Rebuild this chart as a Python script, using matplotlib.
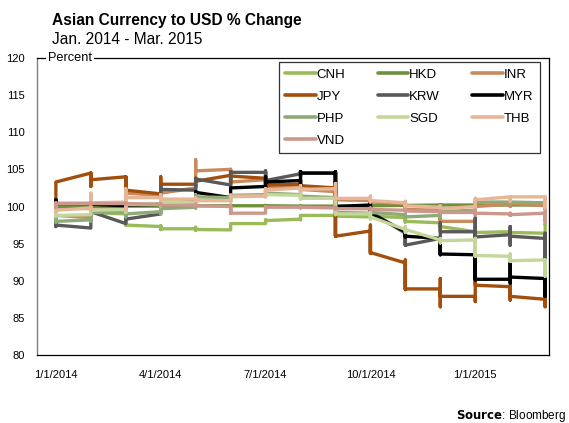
import matplotlib
matplotlib.use("Agg")
import matplotlib.pyplot as plt

plt.rcParams['font.family'] = ['Liberation Sans', 'DejaVu Sans']

# Month positions: Jan 2014 .. Mar 2015 (15 months)
months = list(range(15))
tick_pos = [0, 3, 6, 9, 12]
tick_labels = ["1/1/2014", "4/1/2014", "7/1/2014", "10/1/2014", "1/1/2015"]
y_ticks = [80, 85, 90, 95, 100, 105, 110, 115, 120]

# Per month: (first, low, high, last) of index (Jan 1 2014 = 100)
CNH = [(100, 99.7, 100.1, 99.8), (99.7, 98.8, 99.8, 99.2), (99.0, 97.5, 99.0, 97.5),
       (97.3, 96.9, 97.4, 97.0), (97.0, 96.8, 97.2, 96.9), (96.85, 96.85, 97.7, 97.7),
       (97.7, 97.7, 98.2, 98.1), (98.3, 98.2, 98.8, 98.8), (98.8, 98.6, 98.9, 98.7),
       (98.6, 98.5, 98.9, 98.7), (98.5, 97.9, 98.6, 98.0), (97.8, 97.2, 97.9, 97.3),
       (96.6, 96.4, 97.3, 96.5), (96.6, 96.3, 96.7, 96.5), (96.4, 96.3, 97.7, 97.6)]
HKD = [(100, 99.95, 100.05, 100.0), (100.0, 99.95, 100.05, 100.0), (100.0, 99.95, 100.05, 100.05),
       (100.05, 100.0, 100.1, 100.05), (100.1, 100.05, 100.15, 100.1), (100.1, 100.05, 100.15, 100.1),
       (100.1, 100.05, 100.15, 100.1), (100.05, 100.0, 100.1, 100.05), (100.05, 100.0, 100.1, 100.05),
       (100.1, 100.05, 100.15, 100.1), (100.15, 100.1, 100.2, 100.15), (100.2, 100.15, 100.25, 100.2),
       (100.2, 100.15, 100.25, 100.2), (100.2, 100.15, 100.25, 100.2), (100.2, 100.15, 100.25, 100.2)]
INR = [(100, 98.7, 100.3, 98.8), (98.5, 98.5, 99.6, 99.5), (99.6, 99.6, 102.4, 101.8),
       (101.5, 101.0, 102.5, 101.8), (102.5, 102.5, 106.3, 104.8), (105.0, 103.2, 105.0, 103.3),
       (103.6, 102.6, 103.8, 102.7), (102.5, 102.0, 103.0, 102.3), (102.0, 100.8, 102.3, 100.9),
       (100.8, 100.4, 101.0, 100.6), (100.4, 99.5, 100.5, 99.6), (99.5, 97.9, 99.6, 98.0),
       (98.0, 97.8, 100.1, 100.0), (100.3, 100.0, 100.6, 100.4), (100.1, 99.6, 100.5, 99.9)]
JPY = [(100, 100, 103.3, 103.3), (104.5, 102.7, 104.5, 103.6), (104.0, 102.2, 104.0, 102.2),
       (101.7, 101.7, 104.0, 103.0), (103.0, 102.6, 103.8, 103.4), (104.2, 103.0, 104.2, 104.1),
       (103.8, 102.8, 104.0, 102.9), (103.0, 102.6, 103.6, 102.8), (102.5, 96.0, 102.5, 96.0),
       (96.7, 93.7, 97.5, 93.8), (92.4, 88.8, 92.8, 88.9), (88.9, 86.5, 90.3, 87.9),
       (87.9, 87.2, 90.0, 89.4), (89.2, 87.4, 89.4, 87.9), (87.5, 86.5, 88.2, 86.7)]
KRW = [(100, 97.3, 100, 97.5), (97.1, 97.1, 99.3, 99.3), (97.7, 97.7, 98.4, 98.3),
       (99.0, 99.0, 102.7, 102.3), (102.2, 102.0, 103.8, 103.7), (102.9, 102.8, 104.7, 104.6),
       (104.6, 103.4, 104.8, 103.5), (104.4, 104.0, 104.7, 104.5), (104.5, 100.0, 104.7, 100.0),
       (99.8, 98.8, 100.0, 99.3), (96.4, 94.8, 96.6, 94.8), (95.7, 95.7, 97.8, 96.6),
       (96.6, 95.7, 98.4, 95.9), (96.2, 94.8, 97.3, 96.0), (95.7, 92.8, 96.4, 93.5)]
MYR = [(100, 100, 100.9, 100.4), (100.4, 100.2, 100.8, 100.3), (100.1, 99.9, 100.4, 100.2),
       (100.3, 100.2, 100.9, 100.7), (100.7, 100.7, 102.0, 101.9), (101.2, 101.2, 102.5, 102.5),
       (102.7, 102.5, 104.0, 103.3), (103.5, 102.5, 104.7, 104.5), (104.5, 100.0, 104.7, 100.0),
       (100.2, 99.1, 100.5, 99.1), (96.6, 95.9, 96.8, 96.0), (95.7, 93.5, 95.7, 93.6),
       (93.5, 90.1, 93.5, 90.2), (90.2, 89.7, 92.4, 90.5), (90.3, 87.9, 90.3, 88.0)]
PHP = [(100, 97.9, 100, 98.0), (98.2, 98.0, 99.5, 99.2), (99.2, 98.6, 99.6, 99.0),
       (99.3, 99.0, 100.0, 99.7), (99.9, 99.8, 101.6, 101.3), (101.2, 100.8, 101.6, 101.5),
       (101.6, 101.5, 102.2, 101.8), (101.6, 101.2, 101.9, 101.4), (101.2, 99.0, 101.2, 99.2),
       (99.1, 98.9, 99.4, 99.2), (98.9, 98.5, 99.0, 98.6), (98.8, 98.6, 99.4, 99.3),
       (99.5, 99.3, 100.7, 100.6), (100.6, 100.4, 100.8, 100.6), (100.5, 100.0, 100.6, 100.2)]
SGD = [(100, 98.7, 100, 98.8), (98.9, 98.9, 99.8, 99.5), (99.6, 99.2, 100.4, 100.3),
       (100.3, 100.1, 100.9, 100.7), (100.6, 100.4, 101.0, 100.8), (100.8, 100.6, 101.4, 101.3),
       (101.4, 101.3, 102.1, 101.6), (101.5, 101.0, 101.6, 101.1), (101.1, 98.9, 101.2, 99.0),
       (99.0, 98.3, 99.3, 98.6), (96.9, 96.5, 97.3, 96.9), (95.5, 95.1, 95.7, 95.4),
       (95.5, 93.3, 95.7, 93.4), (93.3, 92.6, 93.6, 92.7), (92.8, 90.6, 92.8, 90.7)]
THB = [(100, 99.3, 100.2, 99.5), (99.8, 99.5, 101.8, 100.5), (100.6, 99.5, 102.4, 101.2),
       (101.2, 100.9, 101.6, 101.0), (101.0, 100.3, 101.2, 100.8), (100.8, 100.6, 101.4, 101.4),
       (101.4, 101.3, 102.4, 102.2), (102.5, 102.0, 102.8, 102.3), (102.4, 101.0, 103.1, 101.1),
       (101.1, 100.6, 101.4, 100.8), (100.5, 100.0, 100.7, 100.1), (99.9, 99.5, 100.1, 99.7),
       (100.0, 99.6, 101.1, 100.9), (101.3, 100.7, 101.3, 101.3), (101.3, 99.8, 101.3, 100.8)]
VND = [(100, 99.9, 100.5, 100.4), (100.4, 100.3, 100.5, 100.4), (100.4, 100.3, 100.5, 100.4),
       (100.3, 100.2, 100.4, 100.2), (100.2, 100.1, 100.3, 100.1), (100.0, 99.1, 100.1, 99.1),
       (99.1, 99.1, 100.0, 99.9), (99.9, 99.8, 100.0, 99.9), (99.8, 99.7, 99.9, 99.7),
       (99.7, 99.6, 99.8, 99.6), (99.5, 99.3, 99.6, 99.4), (99.3, 99.1, 99.4, 99.2),
       (99.2, 98.9, 99.5, 99.1), (99.0, 98.8, 99.1, 98.9), (99.1, 98.0, 99.3, 98.2)]

names = ["CNH", "HKD", "INR", "JPY", "KRW", "MYR", "PHP", "SGD", "THB", "VND"]
series = [CNH, HKD, INR, JPY, KRW, MYR, PHP, SGD, THB, VND]
colors = ["#9BBB59", "#6F903A", "#C98A5E", "#A24E0C", "#595959", "#000000",
          "#8FAA78", "#C4D79B", "#E8B596", "#CC978C"]

fig = plt.figure(figsize=(5.69, 4.23), dpi=100)
ax = fig.add_axes([37/569, 1-355/423, 512/569, 297/423])

handles = {}
for name, data, col in zip(names, series, colors):
    xs, ys = [], []
    for m, (first, lo, hi, last) in zip(months, data):
        xs += [m, m, m, m]
        ys += [first, lo, hi, last]
    ln, = ax.plot(xs, ys, color=col, lw=2.4, solid_joinstyle='round',
                  solid_capstyle='round', label=name)
    handles[name] = ln

ax.set_xlim(-0.54, 14.11)
ax.set_ylim(80, 120)
ax.set_yticks(y_ticks)
ax.set_xticks(tick_pos)
ax.set_xticklabels(tick_labels)
ax.tick_params(axis='both', length=0, labelsize=8)
ax.tick_params(axis='y', pad=9)
ax.tick_params(axis='x', pad=11)
for s in ['top', 'right', 'bottom']:
    ax.spines[s].set_color('black')
    ax.spines[s].set_linewidth(0.9)
ax.spines['left'].set_color('#7f7f7f')
ax.spines['left'].set_linewidth(1.0)

ax.text(0.022, 1.0, "Percent", transform=ax.transAxes, fontsize=9.2,
        va='center', ha='left', zorder=5,
        bbox=dict(facecolor='white', edgecolor='none', pad=1.5))

order = ["CNH", "JPY", "PHP", "VND", "HKD", "KRW", "SGD", "INR", "MYR", "THB"]
leg = ax.legend([handles[n] for n in order], order, ncol=3, loc='upper right',
                bbox_to_anchor=(0.982, 0.9865), fontsize=9.5, frameon=True,
                fancybox=False, edgecolor='black', handlelength=2.3,
                handletextpad=0.08, columnspacing=2.45, labelspacing=0.74,
                borderpad=0.5, borderaxespad=0)
leg.get_frame().set_linewidth(0.9)
for lh in leg.get_lines():
    lh.set_linewidth(2.6)

fig.text(52/569, 1-20/423, "Asian Currency to USD % Change", fontsize=11.2,
         fontweight='bold', va='center', ha='left')
fig.text(52/569, 1-39/423, "Jan. 2014 - Mar. 2015", fontsize=11.2,
         va='center', ha='left')
fig.text(566/569, 1-416/423, r"$\bf{Source}$: Bloomberg", fontsize=8.5,
         va='center', ha='right')

fig.savefig("out.png", dpi=100)
